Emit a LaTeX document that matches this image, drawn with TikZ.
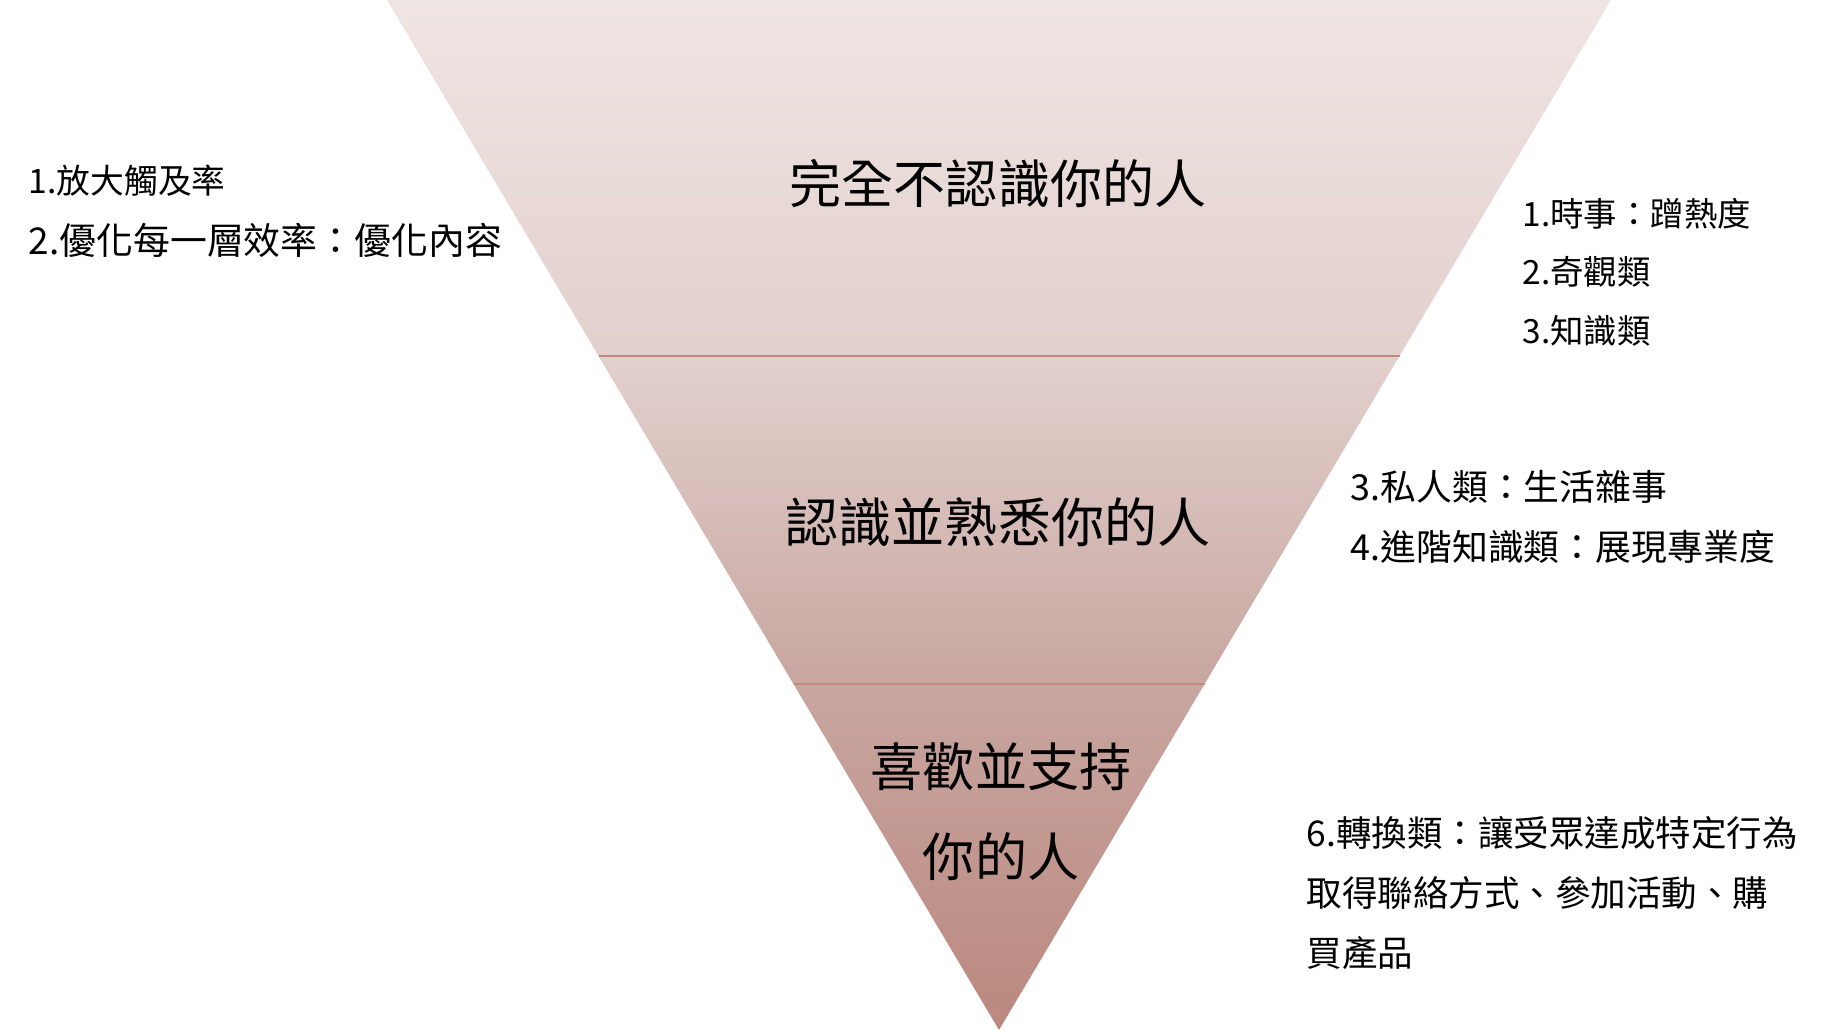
\documentclass[tikz,border=0pt]{standalone}
\usepackage{fontspec}
\newfontfamily\cjk{Noto Sans CJK TC}
\definecolor{funnelTop}{RGB}{239,229,227}
\definecolor{funnelUpper}{RGB}{226,208,205}
\definecolor{funnelLower}{RGB}{200,166,160}
\definecolor{funnelBottom}{RGB}{186,136,126}
\definecolor{layerLine}{RGB}{192,138,128}
\pgfdeclareverticalshading{funnelShade}{100bp}{color(0bp)=(funnelBottom); color(25bp)=(funnelBottom); color(41.8bp)=(funnelLower); color(57.7bp)=(funnelUpper); color(75bp)=(funnelTop); color(100bp)=(funnelTop)}
\tikzset{
  layertext/.style={inner sep=0pt, font=\cjk\fontsize{14.8}{25.6}\selectfont, align=center},
  sidetext/.style={inner sep=0pt, anchor=west, align=left}
}
\begin{document}
\begin{tikzpicture}
            \useasboundingbox (0.000000,0.000000) rectangle (18.310000,10.300000);
            {\cjk
            
            % Funnel body
            \shade [shading=funnelShade] (3.870000,10.300000) -- (16.110000,10.300000) -- (9.990000,0.000000) -- cycle;%
            
            % Drawing layer borders
            \draw [line width=0.015cm, layerLine] (5.985000,6.740000) -- (13.995000,6.740000);%
            \draw [line width=0.015cm, layerLine] (7.935000,3.460000) -- (12.045000,3.460000);%
            
            % Layer names
            \draw (9.980000,8.460000) node (stranger) [layertext] {完全不認識你的人};%
            \draw (9.980000,5.080000) node (familiar) [layertext, font=\cjk\fontsize{15.1}{25.6}\selectfont] {認識並熟悉你的人};%
            \draw (10.010000,2.180000) node (loyal) [layertext] {喜歡並支持\\你的人};%
            
            % Notes on the left
            \draw (0.280000,8.190000) node (goal) [sidetext, font=\cjk\fontsize{9.6}{17.4}\selectfont] {1.放大觸及率\\{\fontsize{10.5}{17.4}\selectfont 2.優化每一層效率：優化內容}};%
            
            % Notes on the right
            \draw (15.220000,7.580000) node (topnote) [sidetext, font=\cjk\fontsize{9.5}{16.7}\selectfont] {1.時事：蹭熱度\\2.奇觀類\\3.知識類};%
            \draw (13.500000,5.130000) node (midnote) [sidetext, font=\cjk\fontsize{10.2}{16.8}\selectfont] {3.私人類：生活雜事\\4.進階知識類：展現專業度};%
            \draw (13.060000,1.370000) node (lownote) [sidetext, font=\cjk\fontsize{10.1}{17.1}\selectfont] {6.轉換類：讓受眾達成特定行為\\取得聯絡方式、參加活動、購\\買產品};%
            }
        \end{tikzpicture}
\end{document}
